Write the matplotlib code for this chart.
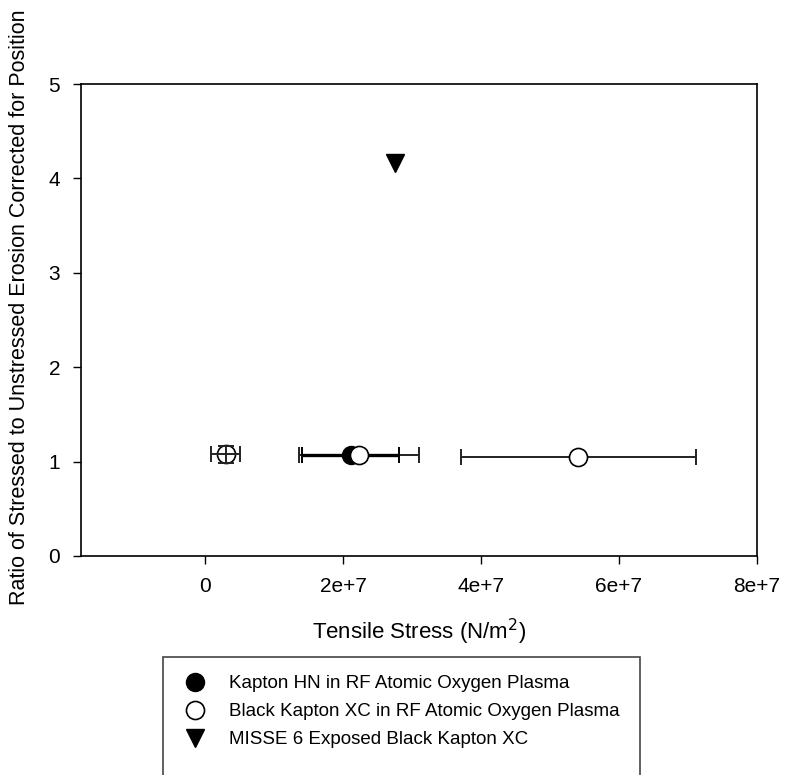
import matplotlib
matplotlib.use("Agg")
import matplotlib.pyplot as plt
from matplotlib.patches import Rectangle
from matplotlib.lines import Line2D

plt.rcParams['font.family'] = ['Liberation Sans', 'DejaVu Sans']

# Kapton HN in RF atomic oxygen plasma
hn_x = [2.11e7]
hn_y = [1.07]
hn_xerr = [0.70e7]

# Black Kapton XC in RF atomic oxygen plasma
xc_x = [3.0e6, 2.23e7, 5.41e7]
xc_y = [1.08, 1.07, 1.05]
xc_xerr = [2.1e6, 0.87e7, 1.70e7]
xc_yerr = [0.09, 0.0, 0.0]

# MISSE 6 exposed Black Kapton XC
misse_x = [2.76e7]
misse_y = [4.16]

xticks = [0, 2e7, 4e7, 6e7, 8e7]
xtick_labels = ["0", "2e+7", "4e+7", "6e+7", "8e+7"]
yticks = [0, 1, 2, 3, 4, 5]

labels = ["Kapton HN in RF Atomic Oxygen Plasma",
          "Black Kapton XC in RF Atomic Oxygen Plasma",
          "MISSE 6 Exposed Black Kapton XC"]

fig = plt.figure(figsize=(7.86, 7.75), dpi=100)
ax = fig.add_axes([0.103, 0.2826, 0.860, 0.609])

ms = 13
bar_col = '#222222'

# small open circle: bars drawn on top of the marker
ax.plot(xc_x[:1], xc_y[:1], 'o', ms=ms, mfc='white', mec='black', mew=1.2, zorder=3)
ax.errorbar(xc_x[:1], xc_y[:1], xerr=xc_xerr[:1], yerr=xc_yerr[:1], fmt='none',
            ecolor=bar_col, elinewidth=1.4, capsize=6, capthick=1.4, zorder=4)

# other open circles
ax.errorbar(xc_x[1:], xc_y[1:], xerr=xc_xerr[1:], fmt='none',
            ecolor=bar_col, elinewidth=1.4, capsize=6, capthick=1.4, zorder=2)
ax.errorbar(hn_x, hn_y, xerr=hn_xerr, fmt='none',
            ecolor='black', elinewidth=2.4, capsize=6, capthick=1.4, zorder=2.5)
ax.plot(hn_x, hn_y, 'o', ms=ms, mfc='black', mec='black', zorder=3)
ax.plot(xc_x[1:], xc_y[1:], 'o', ms=ms, mfc='white', mec='black', mew=1.2, zorder=3.5)

ax.plot(misse_x, misse_y, 'v', ms=ms, mfc='black', mec='black', zorder=3)

ax.set_xlim(-1.8e7, 8e7)
ax.set_ylim(0, 5)
ax.set_xticks(xticks)
ax.set_xticklabels(xtick_labels)
ax.set_yticks(yticks)
ax.tick_params(direction='out', length=6, width=1, labelsize=15, pad=9)
for s in ax.spines.values():
    s.set_linewidth(1.2)

ax.set_xlabel("Tensile Stress (N/m$^2$)", fontsize=16, labelpad=15)
fig.text(20 / 786, (775 - 605) / 775,
         "Ratio of Stressed to Unstressed Erosion Corrected for Position",
         rotation=90, ha='center', va='bottom', fontsize=15.5)

# legend box, runs off the bottom edge
fig.patches.append(Rectangle((163 / 786, -0.05), (640 - 163) / 786, (775 - 657) / 775 + 0.05,
                             transform=fig.transFigure, fill=False, ec='#444444', lw=1.2))
handles = [Line2D([], [], ls='none', marker='o', ms=ms, mfc='black', mec='black'),
           Line2D([], [], ls='none', marker='o', ms=ms, mfc='white', mec='black', mew=1.2),
           Line2D([], [], ls='none', marker='v', ms=ms, mfc='black', mec='black')]
fig.legend(handles, labels, loc='upper left', bbox_to_anchor=(186 / 786, (775 - 675) / 775),
           frameon=False, fontsize=13.5, handlelength=1.0, handletextpad=1.3,
           labelspacing=0.58, borderpad=0, borderaxespad=0)

fig.savefig("out.png", dpi=100)
